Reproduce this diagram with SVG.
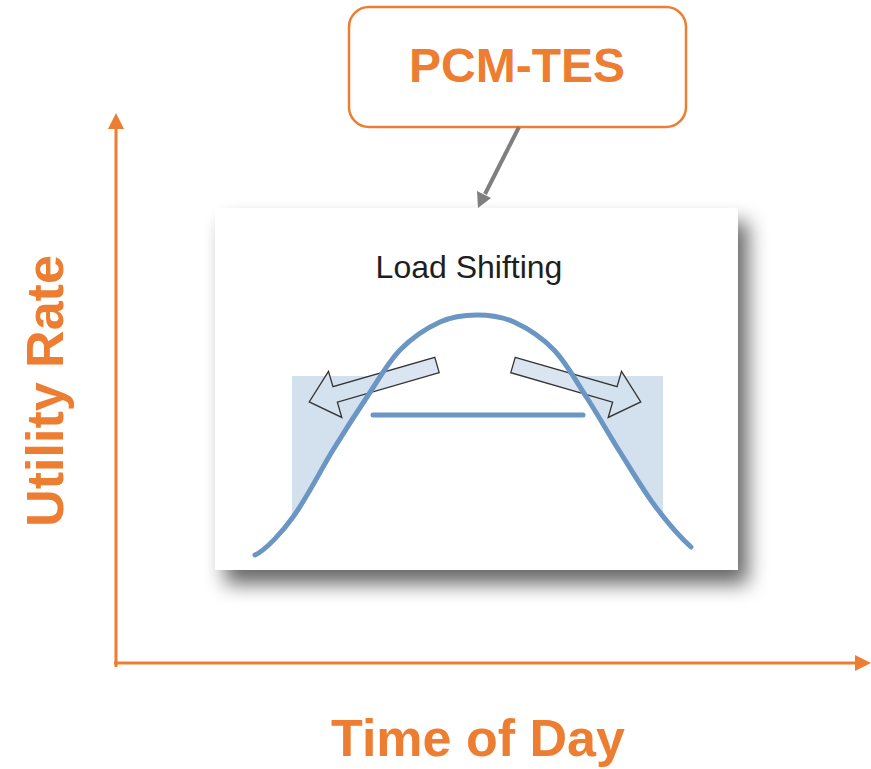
<svg xmlns="http://www.w3.org/2000/svg" width="871" height="769" viewBox="0 0 871 769">
  <style>
    .orange { fill: #ed7d31; }
    .axis { stroke: #ed7d31; stroke-width: 3; fill: none; }
    .big { font-family: "Liberation Sans", Arial, sans-serif; font-weight: bold; fill: #ed7d31; }
    .curve { fill: none; stroke: #6b96c3; stroke-width: 5; stroke-linecap: round; }
    .shade { fill: #d3e1ee; }
    .blockarrow { fill: #d3e1ee; fill-opacity: 0.85; stroke: #333; stroke-width: 1.3; stroke-linejoin: miter; }
  </style>
  <defs>
    <filter id="shadow" x="-10%" y="-10%" width="125%" height="130%">
      <feOffset in="SourceAlpha" dx="10" dy="14" result="off"/>
      <feGaussianBlur in="off" stdDeviation="10" result="blur"/>
      <feComponentTransfer in="blur" result="sh">
        <feFuncA type="linear" slope="0.6"/>
      </feComponentTransfer>
      <feMerge>
        <feMergeNode in="sh"/>
        <feMergeNode in="SourceGraphic"/>
      </feMerge>
    </filter>
    <polygon id="blk" points="0,-8 106,-8 106,-24 133,0 106,24 106,8 0,8"/>
  </defs>
  <rect width="871" height="769" fill="#ffffff"/>

  <!-- Axes -->
  <g id="y-axis">
    <line class="axis" x1="116" y1="126" x2="116" y2="667"/>
    <polygon class="orange" points="116,113 108,129 124,129"/>
  </g>
  <g id="x-axis">
    <line class="axis" x1="114" y1="663" x2="858" y2="663"/>
    <polygon class="orange" points="871,663 855,655 855,671"/>
  </g>
  <g id="y-label">
    <text class="big" font-size="52" text-anchor="middle" transform="translate(63,391) rotate(-90)">Utility Rate</text>
  </g>
  <g id="x-label">
    <text class="big" font-size="52" x="478" y="756" text-anchor="middle">Time of Day</text>
  </g>

  <!-- PCM-TES box -->
  <g id="pcm-tes">
    <rect x="349" y="7" width="337" height="120" rx="20" ry="20" fill="#ffffff" stroke="#ed7d31" stroke-width="2.5"/>
    <text class="big" font-size="48" x="517" y="82" text-anchor="middle">PCM-TES</text>
  </g>

  <!-- Load shifting panel -->
  <g id="load-shifting-panel">
    <rect x="215" y="208" width="523" height="362" fill="#ffffff" filter="url(#shadow)"/>
    <text x="469" y="278" text-anchor="middle" font-family="Liberation Sans, Arial, sans-serif" font-size="32" fill="#1e1e1e">Load Shifting</text>
    <rect class="shade" x="292" y="376" width="110" height="190"/>
    <rect class="shade" x="550" y="376" width="113" height="190"/>
    <path fill="#ffffff" d="M255,555 C266,550 283,531 293,517 C306,499.5 320.7,470 333,450 C345.3,430 355.8,413.7 367,397 C378.2,380.3 387.8,362.5 400,350 C412.2,337.5 427.2,327.8 440,322 C452.8,316.2 464.7,315 477,315 C489.3,315 501.2,316.2 514,322 C526.8,327.8 541.8,337.3 554,350 C566.2,362.7 576,381 587,398 C598,415 608.7,434 620,452 C631.3,470 643.2,490.2 655,506 C666.8,521.8 681,538 691,547 L691,568 L255,568 Z"/>
    <use href="#blk" class="blockarrow" transform="translate(437,365) rotate(163.9)"/>
    <use href="#blk" class="blockarrow" transform="translate(513,365) rotate(16.1)"/>
    <path class="curve" d="M255,555 C266,550 283,531 293,517 C306,499.5 320.7,470 333,450 C345.3,430 355.8,413.7 367,397 C378.2,380.3 387.8,362.5 400,350 C412.2,337.5 427.2,327.8 440,322 C452.8,316.2 464.7,315 477,315 C489.3,315 501.2,316.2 514,322 C526.8,327.8 541.8,337.3 554,350 C566.2,362.7 576,381 587,398 C598,415 608.7,434 620,452 C631.3,470 643.2,490.2 655,506 C666.8,521.8 681,538 691,547"/>
    <line class="curve" x1="373" y1="415" x2="583" y2="415"/>
  </g>

  <!-- Connector -->
  <g id="connectors">
    <line x1="519" y1="127" x2="485" y2="194" stroke="#7f7f7f" stroke-width="4"/>
    <polygon points="478,208 491,198 477,191" fill="#7f7f7f"/>
  </g>
</svg>
